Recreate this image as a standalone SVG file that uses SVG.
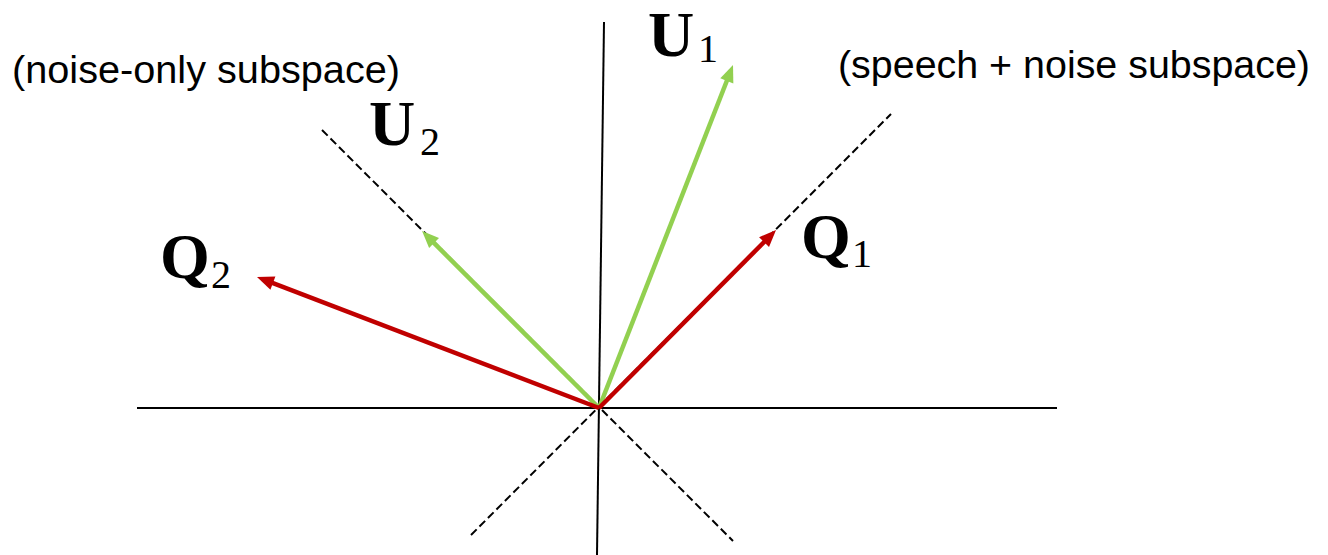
<svg xmlns="http://www.w3.org/2000/svg" width="1328" height="555" viewBox="0 0 1328 555">
<style>
.axis{stroke:#000;stroke-width:2;fill:none}
.dash{stroke:#000;stroke-width:2;fill:none;stroke-dasharray:8 4}
.red{stroke:#C00000;stroke-width:4.5;fill:none;marker-end:url(#headR)}
.green{stroke:#92D050;stroke-width:4.5;fill:none;marker-end:url(#headG)}
.lbl{font-family:"Liberation Sans","DejaVu Sans",sans-serif;font-size:38px;fill:#000}
.math{font-family:"Liberation Serif","DejaVu Serif",serif;font-weight:bold;font-size:64px;fill:#000}
.sub{font-family:"Liberation Serif","DejaVu Serif",serif;font-weight:normal;font-size:40px;fill:#000}
</style>
<defs>
<marker id="headR" markerUnits="userSpaceOnUse" viewBox="-2 -10 22 20" markerWidth="22" markerHeight="20" refX="9" refY="0" orient="auto" overflow="visible"><path d="M0,-7 L17,0 L0,7 z" fill="#C00000"/></marker>
<marker id="headG" markerUnits="userSpaceOnUse" viewBox="-2 -10 22 20" markerWidth="22" markerHeight="20" refX="9" refY="0" orient="auto" overflow="visible"><path d="M0,-7 L17,0 L0,7 z" fill="#92D050"/></marker>
</defs>
<rect width="1328" height="555" fill="#fff"/>
<g id="connectors">
<line class="axis" x1="137" y1="408" x2="1057" y2="408"/>
<line class="axis" x1="604" y1="22" x2="597" y2="555"/>
<line class="dash" x1="471" y1="535" x2="891" y2="114"/>
<line class="dash" x1="322" y1="130" x2="733" y2="541"/>
<line class="green" x1="599" y1="408" x2="730.1" y2="72.5"/>
<line class="green" x1="599" y1="408" x2="427.7" y2="236.7"/>
<line class="red" x1="599" y1="408" x2="770.4" y2="235.7"/>
<line class="red" x1="599" y1="408" x2="264.5" y2="279.9"/>
</g>
<g id="label-noise"><text class="lbl" x="12" y="83" textLength="388" lengthAdjust="spacingAndGlyphs">(noise-only subspace)</text></g>
<g id="label-speech"><text class="lbl" x="838" y="78" textLength="472" lengthAdjust="spacingAndGlyphs">(speech + noise subspace)</text></g>
<g id="U1"><text class="math" x="648" y="56">U<tspan class="sub" x="698" y="62">1</tspan></text></g>
<g id="U2"><text class="math" x="369" y="145">U<tspan class="sub" x="420" y="155">2</tspan></text></g>
<g id="Q1"><text class="math" x="801" y="258">Q<tspan class="sub" x="852" y="267">1</tspan></text></g>
<g id="Q2"><text class="math" x="160" y="278">Q<tspan class="sub" x="211" y="288">2</tspan></text></g>
</svg>
